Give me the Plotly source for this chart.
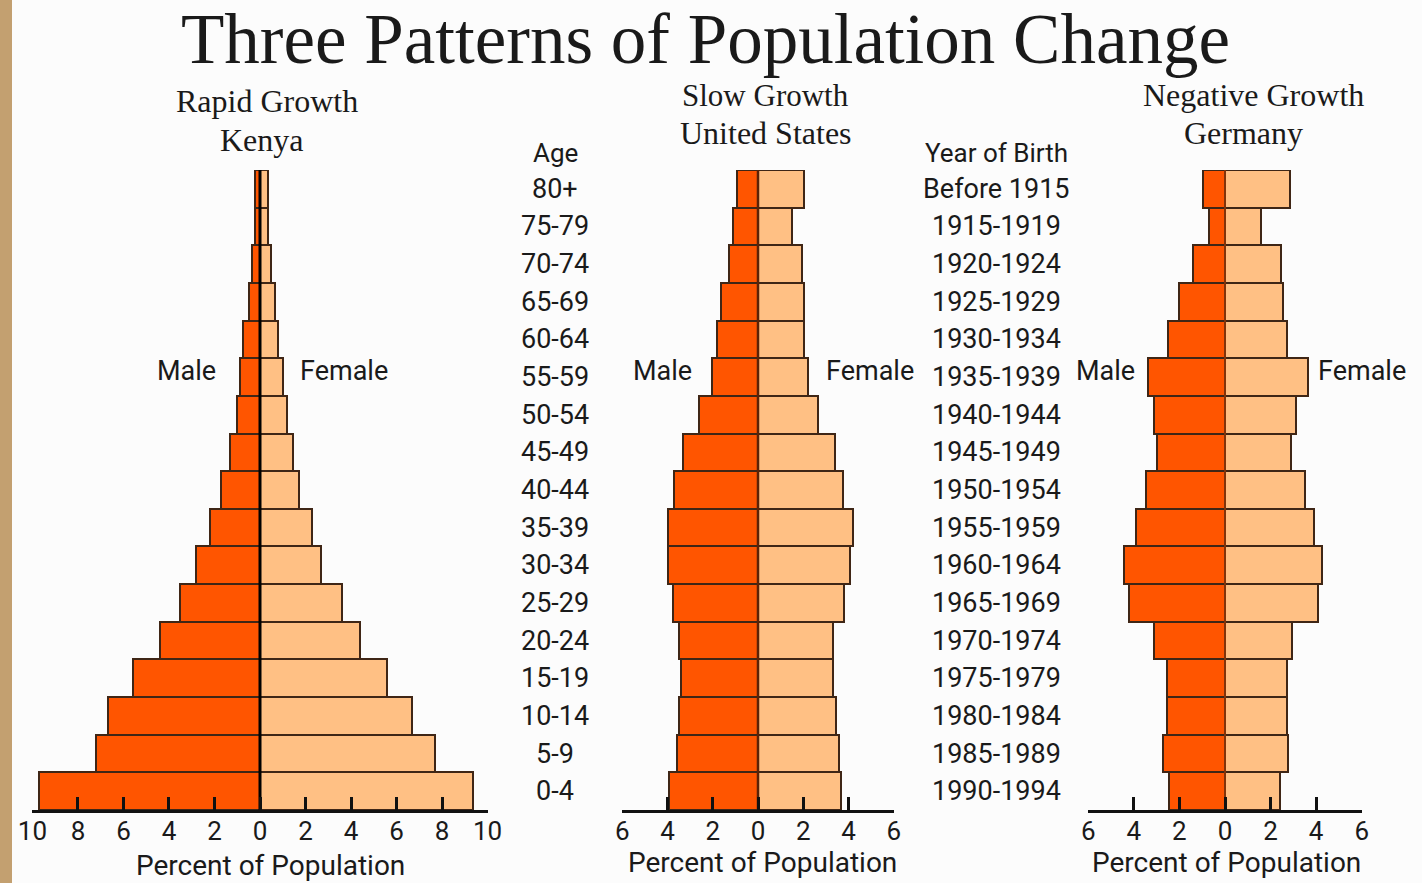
import plotly.graph_objects as go

# ---------------- data ----------------
ages = ["0-4", "5-9", "10-14", "15-19", "20-24", "25-29", "30-34", "35-39", "40-44",
        "45-49", "50-54", "55-59", "60-64", "65-69", "70-74", "75-79", "80+"]
birth_years = ["1990-1994", "1985-1989", "1980-1984", "1975-1979", "1970-1974", "1965-1969",
               "1960-1964", "1955-1959", "1950-1954", "1945-1949", "1940-1944", "1935-1939",
               "1930-1934", "1925-1929", "1920-1924", "1915-1919", "Before 1915"]

kenya_male = [9.7, 7.2, 6.7, 5.6, 4.4, 3.5, 2.8, 2.2, 1.7, 1.3, 1.0, 0.9, 0.75, 0.5, 0.35, 0.2, 0.2]
kenya_female = [9.35, 7.7, 6.7, 5.6, 4.4, 3.6, 2.7, 2.3, 1.7, 1.45, 1.2, 1.0, 0.8, 0.65, 0.5, 0.35, 0.35]

us_male = [3.95, 3.6, 3.5, 3.4, 3.5, 3.75, 4.0, 4.0, 3.7, 3.3, 2.6, 2.05, 1.8, 1.65, 1.3, 1.1, 0.95]
us_female = [3.65, 3.6, 3.45, 3.3, 3.3, 3.8, 4.05, 4.2, 3.75, 3.4, 2.65, 2.2, 2.05, 2.05, 1.95, 1.5, 2.05]

de_male = [2.45, 2.7, 2.55, 2.55, 3.1, 4.2, 4.45, 3.9, 3.45, 3.0, 3.1, 3.4, 2.5, 2.0, 1.4, 0.7, 0.98]
de_female = [2.4, 2.75, 2.7, 2.7, 2.95, 4.1, 4.25, 3.9, 3.5, 2.9, 3.1, 3.65, 2.7, 2.55, 2.45, 1.6, 2.85]

kenya_ticks = [-10, -8, -6, -4, -2, 0, 2, 4, 6, 8, 10]
small_ticks = [-6, -4, -2, 0, 2, 4, 6]

# ---------------- style ----------------
W, H = 1422, 883
MALE = "#FF5500"
FEMALE = "#FFC084"
EDGE = "#3f2616"
INK = "#1a1a1a"
SANS = "Roboto, 'Open Sans', sans-serif"
SERIF = "'Liberation Serif', 'DejaVu Serif', serif"
BG = "#fcfcfc"


def px(xp):
    return xp / W


def py(yp):
    return 1 - yp / H


rows = list(range(len(ages)))

panels = [
    dict(xa="x", male=kenya_male, female=kenya_female, lim=10, ticks=kenya_ticks,
         dom=(32, 488), center_color="#000000", center_w=3),
    dict(xa="x2", male=us_male, female=us_female, lim=6, ticks=small_ticks,
         dom=(622, 894), center_color="#5a2208", center_w=2.5),
    dict(xa="x3", male=de_male, female=de_female, lim=6, ticks=small_ticks,
         dom=(1088, 1362), center_color="#9a3a08", center_w=1.5),
]

fig = go.Figure()
layout_axes = {}
for i, p in enumerate(panels):
    fig.add_trace(go.Bar(
        y=rows, x=[-v for v in p["male"]], orientation="h", width=1,
        marker=dict(color=MALE, line=dict(color=EDGE, width=2)),
        xaxis=p["xa"], yaxis="y", showlegend=False, hoverinfo="skip"))
    fig.add_trace(go.Bar(
        y=rows, x=p["female"], orientation="h", width=1,
        marker=dict(color=FEMALE, line=dict(color=EDGE, width=2)),
        xaxis=p["xa"], yaxis="y", showlegend=False, hoverinfo="skip"))
    fig.add_trace(go.Scatter(
        x=[0, 0], y=[-0.5, len(ages) - 0.5], mode="lines",
        line=dict(color=p["center_color"], width=p["center_w"]),
        xaxis=p["xa"], yaxis="y", showlegend=False, hoverinfo="skip"))
    key = "xaxis" if i == 0 else f"xaxis{i + 1}"
    pad = 0.02 * p["lim"] / 10
    layout_axes[key] = dict(
        domain=[px(p["dom"][0]), px(p["dom"][1])],
        range=[-p["lim"] - pad, p["lim"] + pad],
        anchor="y", automargin=False,
        showline=True, linecolor="#111111", linewidth=3,
        ticks="inside", ticklen=13, tickwidth=3, tickcolor="#111111",
        tickvals=p["ticks"], ticktext=[str(abs(t)) for t in p["ticks"]],
        tickfont=dict(family=SANS, size=26, color=INK),
        ticklabelstandoff=-4,
        showgrid=False, zeroline=False, fixedrange=True, layer="above traces",
    )

annotations = []


def add_text(text, x, y, size, family=SANS, yref="paper", xanchor="center"):
    annotations.append(dict(
        text=text, x=px(x), y=(py(y) if yref == "paper" else y),
        xref="paper", yref=yref, xanchor=xanchor, yanchor="middle",
        showarrow=False, font=dict(family=family, size=size, color=INK)))


# title
add_text("Three Patterns of Population Change", 705, 39, 71, SERIF)
# panel headings
add_text("Rapid Growth", 267, 101, 32, SERIF)
add_text("Kenya", 262, 140, 32, SERIF)
add_text("Slow Growth", 765, 96, 31, SERIF)
add_text("United States", 766, 133, 32, SERIF)
add_text("Negative Growth", 1253, 95, 32, SERIF)
add_text("Germany", 1243, 133, 32, SERIF)
# column headers
add_text("Age", 555, 153, 26)
add_text("Year of Birth", 996, 153, 26)
# age and birth-year labels
for r, a in zip(rows, ages):
    add_text(a, 555, r, 27, yref="y")
for r, b in zip(rows, birth_years):
    add_text(b, 996, r, 27, yref="y")
# male / female
for mx, fx in [(186, 344), (662, 870), (1105, 1362)]:
    add_text("Male", mx, 371, 27)
    add_text("Female", fx, 371, 27)
# axis titles
add_text("Percent of Population", 270, 865, 28)
add_text("Percent of Population", 762, 862, 28)
add_text("Percent of Population", 1226, 862, 28)

fig.update_layout(
    width=W, height=H, autosize=False,
    margin=dict(l=0, r=0, t=0, b=0, pad=0, autoexpand=False),
    paper_bgcolor=BG, plot_bgcolor=BG,
    barmode="overlay", bargap=0,
    yaxis=dict(domain=[py(810), py(170)], range=[-0.5, len(ages) - 0.5],
               visible=False, fixedrange=True, automargin=False),
    annotations=annotations,
    shapes=[dict(type="rect", xref="paper", yref="paper", x0=0, x1=px(12), y0=0, y1=1,
                 fillcolor="#c3a070", line=dict(width=0), layer="above")],
    **layout_axes,
)

fig.write_html(
    "out.html",
    config={"displayModeBar": False},
    post_script="document.body.style.margin='0';document.body.style.overflow='hidden';"
                "document.body.style.background='" + BG + "';",
)
